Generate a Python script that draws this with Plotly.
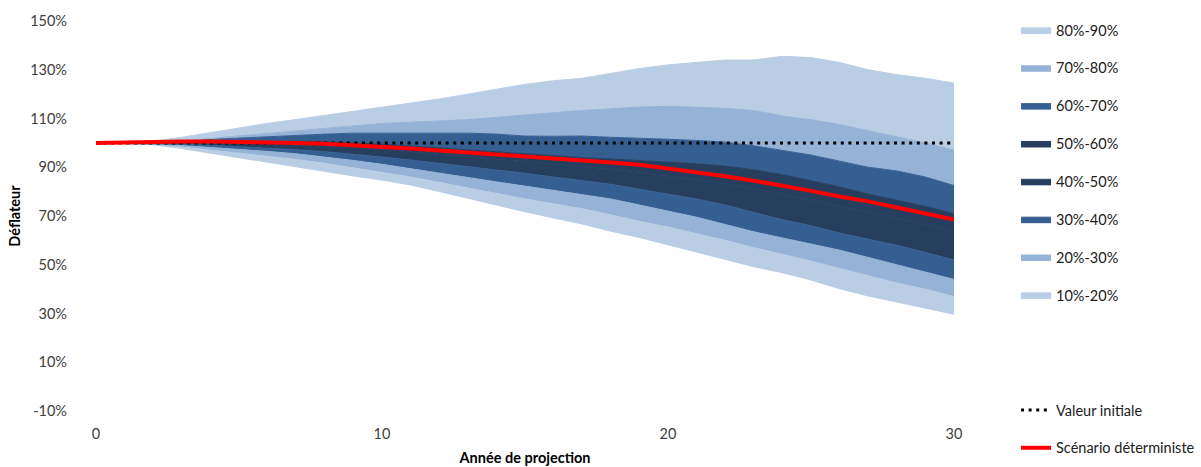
import plotly.graph_objects as go

# Projection years
years = list(range(0, 31))

# Deflator quantiles per projection year (in %)
q10 = [100, 99.4, 99, 97.5, 95.6, 93.7, 91.8, 89.9, 88, 86.2, 84.6, 82.5, 79.8, 77, 74.3, 71.5,
       69, 66.5, 63.5, 61, 58, 55, 52, 49, 46.5, 43.5, 40, 37, 34.5, 32, 29.5]
q20 = [100, 99.6, 99.3, 98.3, 97.1, 95.9, 94.6, 93.2, 91.6, 89.8, 88, 86, 83.8, 81.5, 79.3, 77,
       75, 73, 70.5, 67.8, 65.5, 62.8, 60, 57, 54.3, 51.5, 48.5, 45.5, 42.5, 40, 37]
q30 = [100, 99.8, 99.5, 98.9, 98.2, 97.4, 96.5, 95.5, 94.3, 92.8, 91.2, 89.5, 87.8, 85.8, 84, 82.3,
       80.5, 78.8, 77, 74.5, 72, 69.5, 66.5, 63.5, 61, 58.5, 56, 53, 50, 47, 44]
q40 = [100, 99.9, 99.7, 99.4, 99, 98.5, 97.9, 97.2, 96.4, 95.4, 94.2, 93, 91.7, 90.3, 88.9, 87.5,
       86, 84.5, 83, 81, 79, 77, 74.5, 71.5, 68.5, 66, 63, 60.5, 58, 55, 52]
q50 = [100, 100, 100.1, 100.1, 100, 99.8, 99.5, 99.1, 98.6, 98, 97.2, 96.4, 95.4, 94.4, 93.4, 92.4,
       91.4, 90.3, 89.2, 88, 86.5, 85, 83.2, 81.2, 79, 76.6, 74, 71.5, 69, 66.5, 63.5]
q60 = [100, 100.1, 100.3, 100.5, 100.6, 100.7, 100.7, 100.6, 100.4, 100, 99.5, 98.7, 97.9, 97, 96.2, 95.5,
       94.8, 94, 93.4, 92.8, 92.3, 91.5, 90.5, 89, 87, 84.5, 82, 79, 76.5, 74, 71]
q70 = [100, 100.2, 100.5, 100.9, 101.4, 102, 102.6, 103.1, 103.6, 104, 104, 104.2, 104, 104, 103.6, 102.8,
       102.7, 102.8, 102.3, 102, 101.5, 101, 100.3, 98.8, 97, 95, 92.5, 90, 88.5, 86, 82.5]
q80 = [100, 100.2, 100.4, 100.9, 101.8, 102.8, 103.8, 104.8, 105.9, 107, 108, 108.5, 109, 109.5, 110.5, 111.5,
       112.5, 113.3, 114, 114.7, 115, 114.5, 114.2, 113.3, 111, 109.5, 107.5, 105, 102.5, 100, 97]
q90 = [100, 100.3, 100.6, 102.3, 104.3, 106.3, 108, 109.6, 111.3, 113, 114.6, 116.2, 118, 120, 122, 124,
       125.5, 126.5, 128.5, 130.5, 132, 133, 134, 134, 135.5, 135, 133, 130, 128, 126.5, 124.5]

# Deterministic scenario and initial value
deterministe = [100, 100.3, 100.5, 100.6, 100.6, 100.5, 100.3, 100, 99.6, 99.1, 98.4, 97.7, 96.9, 96, 95.2, 94.4,
                93.6, 92.8, 92, 91, 89.5, 88, 86.3, 84.5, 82.5, 80.3, 78, 76, 73.5, 71, 68.5]
valeur_initiale = [100] * 31

band_names = ["10%-20%", "20%-30%", "30%-40%", "40%-50%", "50%-60%", "60%-70%", "70%-80%", "80%-90%"]
band_tops = [q20, q30, q40, q50, q60, q70, q80, q90]

# Axis ticks
y_ticks = [-10, 10, 30, 50, 70, 90, 110, 130, 150]
y_ticktext = ["-10%", "10%", "30%", "50%", "70%", "90%", "110%", "130%", "150%"]
x_ticks = [0, 10, 20, 30]

LIGHT = "#B9CDE5"
MEDLIGHT = "#95B3D7"
MEDIUM = "#365F91"
DARK = "#263F5F"
band_colors = [LIGHT, MEDLIGHT, MEDIUM, DARK, DARK, MEDIUM, MEDLIGHT, LIGHT]

FONT = "Lato, 'Open Sans', sans-serif"
FS = 14.5
TXT = "#404040"

fig = go.Figure()

# Lower bound of the fan (no fill, no legend)
fig.add_trace(go.Scatter(x=years, y=q10, mode="lines", line=dict(width=0, color=LIGHT),
                         showlegend=False, hoverinfo="skip"))

n = len(band_names)
for i, (name, top, col) in enumerate(zip(band_names, band_tops, band_colors)):
    fig.add_trace(go.Scatter(
        x=years, y=top, mode="lines", name=name,
        line=dict(width=1, color=col), fill="tonexty", fillcolor=col,
        legend="legend", legendgroup=name, legendrank=n - i,
    ))

fig.add_trace(go.Scatter(
    x=years, y=valeur_initiale, mode="lines", name="Valeur initiale",
    line=dict(color="black", width=3, dash="3px,4.6px"),
    legend="legend2", legendgroup="vi", legendrank=1,
))
fig.add_trace(go.Scatter(
    x=years, y=deterministe, mode="lines", name="Scénario déterministe",
    line=dict(color="#FF0000", width=4),
    legend="legend2", legendgroup="det", legendrank=2,
))

fig.update_layout(
    width=1201, height=467,
    margin=dict(l=96, r=247, t=21, b=56),
    paper_bgcolor="white", plot_bgcolor="white",
    font=dict(family=FONT, size=FS, color=TXT),
    legend=dict(
        xref="container", yref="container", x=0.846, y=1 - 14 / 467,
        xanchor="left", yanchor="top", traceorder="grouped",
        tracegroupgap=16, maxheight=440, font=dict(family=FONT, size=FS, color="#202020"),
        bgcolor="rgba(0,0,0,0)",
    ),
    legend2=dict(
        xref="container", yref="container", x=0.846, y=1 - 394 / 467,
        xanchor="left", yanchor="top", traceorder="grouped",
        tracegroupgap=16, maxheight=100, font=dict(family=FONT, size=FS, color="#202020"),
        bgcolor="rgba(0,0,0,0)",
    ),
    xaxis=dict(
        range=[0, 30], tickvals=x_ticks, showgrid=False, zeroline=False,
        showline=False, ticks="", ticklabelstandoff=12, automargin=False,
        title=dict(text="<b>Année de projection</b>", standoff=12,
                   font=dict(family=FONT, size=FS, color="#000000")),
    ),
    yaxis=dict(
        range=[-10, 150], tickvals=y_ticks, ticktext=y_ticktext, showgrid=False,
        zeroline=False, showline=False, ticks="", ticklabelstandoff=28, automargin=False,
        title=dict(text="<b>Déflateur</b>", standoff=6,
                   font=dict(family=FONT, size=FS, color="#000000")),
    ),
)

fig.write_html("out.html")
